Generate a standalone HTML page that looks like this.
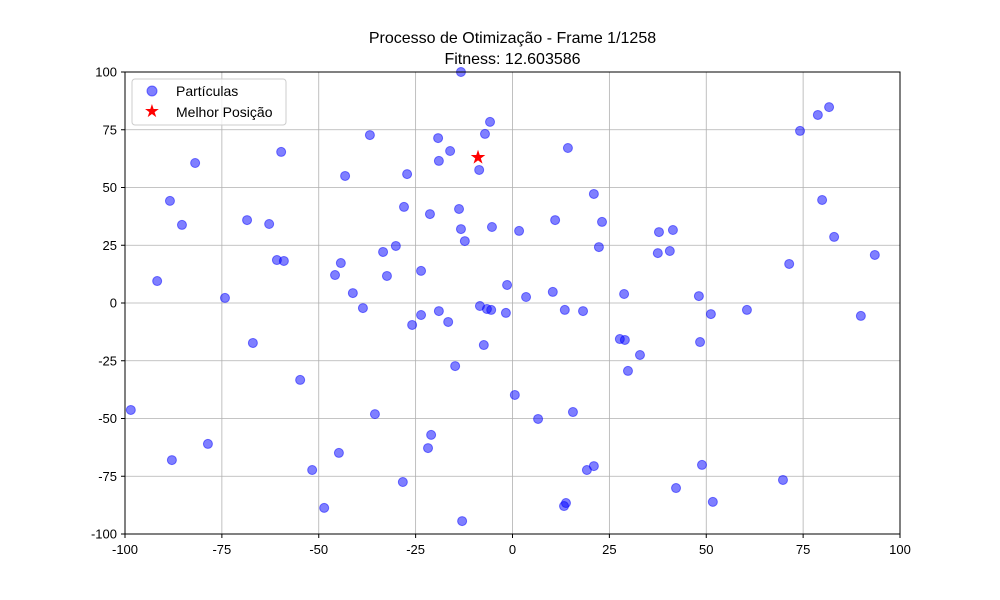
<!DOCTYPE html>
<html><head><meta charset="utf-8"><style>
body{margin:0;background:#fff;}
svg{display:block;font-family:"Liberation Sans","DejaVu Sans",sans-serif;}
</style></head><body>
<svg id="chart" width="1000" height="600">
<rect width="1000" height="600" fill="#fff"/>
<text x="512.5" y="43" text-anchor="middle" font-size="16">Processo de Otimização - Frame 1/1258</text>
<text x="512.5" y="64" text-anchor="middle" font-size="16">Fitness: 12.603586</text>
<g id="grid"></g><g id="pts"></g><g id="ticks"></g>
<rect x="125" y="72" width="775" height="462" fill="none" stroke="#000" stroke-width="1"/>
<g>
<rect x="132" y="79" width="154" height="46" rx="3" fill="#fff" fill-opacity="0.8" stroke="#ccc"/>
<circle cx="152" cy="91" r="5" fill="#0000ff" fill-opacity="0.5" stroke="#0000ff" stroke-opacity="0.5"/>
<text x="176" y="96" font-size="14">Partículas</text>
<text x="152" y="117" font-size="18" fill="red" text-anchor="middle">★</text>
<text x="176" y="117" font-size="14">Melhor Posição</text>
</g>
</svg>
<script>
const xs=[-13.3,-5.8,-7.1,-36.8,-19.2,14.3,-59.7,-16.1,-19.0,-81.9,-8.6,-43.2,-27.2,81.7,78.8,74.2,21.0,79.9,-88.4,-28.0,-13.8,-21.3,11.0,-68.5,-85.3,-62.8,23.1,-5.3,-13.3,41.4,37.8,1.7,83.0,-12.3,-30.1,22.3,-33.4,40.6,37.5,93.5,-60.8,-59.0,-44.3,71.4,-45.8,-32.4,-23.6,-91.7,-1.4,10.4,28.8,-41.2,3.5,48.1,-74.2,-8.4,-38.6,-6.6,-5.5,-19.0,13.5,18.2,60.5,51.2,-1.7,-23.6,89.9,-16.6,-25.9,27.7,29.0,48.4,-67.0,-7.4,32.9,-14.8,29.8,-54.8,0.6,-98.5,15.6,-35.5,6.6,-21.0,-78.6,-21.8,-44.8,-87.9,48.9,21.0,19.2,-51.7,69.8,-28.3,42.2,51.7,13.8,13.3,-48.6,-13.0];
const ys=[100,78.4,73.2,72.7,71.4,67.1,65.4,65.8,61.5,60.6,57.6,55.0,55.8,84.8,81.4,74.5,47.2,44.6,44.2,41.6,40.7,38.5,35.9,35.9,33.8,34.2,35.1,32.9,32.0,31.6,30.7,31.2,28.6,26.8,24.7,24.2,22.1,22.5,21.6,20.8,18.6,18.2,17.3,16.9,12.1,11.7,13.9,9.5,7.8,4.8,3.9,4.3,2.6,3.0,2.2,-1.3,-2.2,-2.6,-3.0,-3.5,-3.0,-3.5,-3.0,-4.8,-4.3,-5.2,-5.6,-8.2,-9.5,-15.6,-16.0,-16.9,-17.3,-18.2,-22.5,-27.3,-29.4,-33.3,-39.8,-46.3,-47.2,-48.1,-50.2,-57.1,-61.0,-62.8,-64.9,-68.0,-70.1,-70.6,-72.3,-72.3,-76.6,-77.5,-80.1,-86.1,-86.6,-87.9,-88.7,-94.4];
const best=[-8.9,63.2];
const xTicks=[-100,-75,-50,-25,0,25,50,75,100];
const yTicks=[-100,-75,-50,-25,0,25,50,75,100];
const NS="http://www.w3.org/2000/svg";
const sx=v=>125+(v+100)/200*775, sy=v=>534-(v+100)/200*462;
function mk(t,a,p){const e=document.createElementNS(NS,t);for(const k in a)e.setAttribute(k,a[k]);p.appendChild(e);return e;}
const g=document.getElementById('grid'),tk=document.getElementById('ticks'),pg=document.getElementById('pts');
xTicks.forEach(v=>{const x=sx(v);
 const l=mk('line',{x1:x,x2:x,y1:72,y2:534,stroke:'#b0b0b0','stroke-width':0.8},g);
 
 
 mk('line',{x1:x,x2:x,y1:534,y2:538,stroke:'#000'},tk);
 const t=mk('text',{x:x,y:554,'text-anchor':'middle','font-size':13},tk);t.textContent=v;
 
 });
yTicks.forEach(v=>{const y=sy(v);
 const l=mk('line',{x1:125,x2:900,y1:y,y2:y,stroke:'#b0b0b0','stroke-width':0.8},g);
 
 
 mk('line',{x1:121,x2:125,y1:y,y2:y,stroke:'#000'},tk);
 const t=mk('text',{x:117,y:y+4.5,'text-anchor':'end','font-size':13},tk);t.textContent=v;
 
 });
xs.forEach((x,i)=>{const c=mk('circle',{cx:sx(x),cy:sy(ys[i]),r:4.5,fill:'#0000ff','fill-opacity':0.5,stroke:'#0000ff','stroke-opacity':0.5},pg);
 
 });
const s=mk('text',{x:sx(best[0]),y:sy(best[1])+6.5,'text-anchor':'middle','font-size':19,fill:'red'},pg);s.textContent='★';


</script>
</body></html>
